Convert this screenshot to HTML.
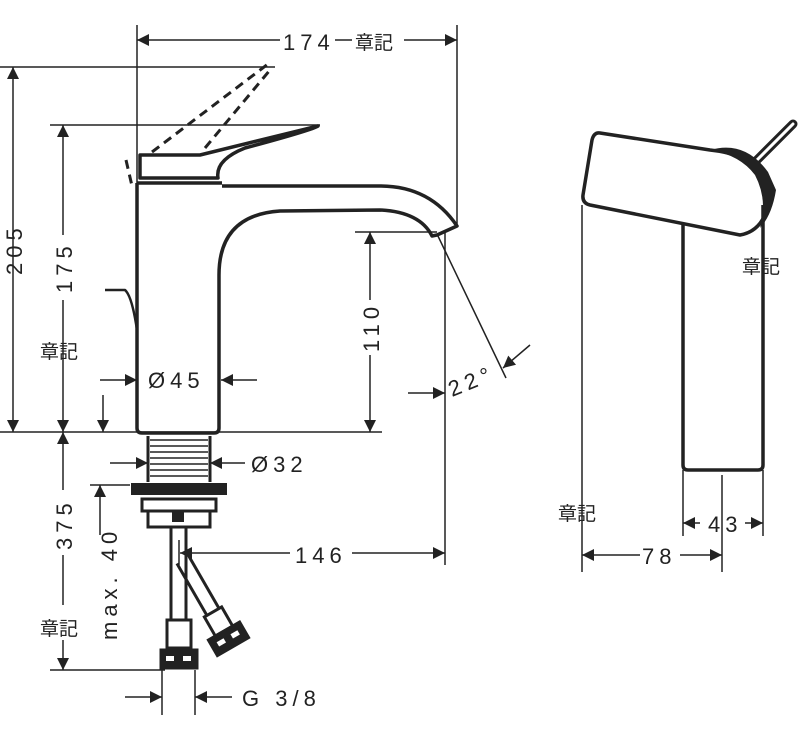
<!DOCTYPE html>
<html><head><meta charset="utf-8"><style>
html,body{margin:0;padding:0;background:#fff;}
svg{display:block;}
text{font-family:"Liberation Sans","Noto Sans CJK JP",sans-serif;fill:#222;}
.d{font-size:22px;letter-spacing:5px;}
.c{font-size:19px;}
</style></head><body>
<svg width="800" height="743" viewBox="0 0 800 743" xmlns="http://www.w3.org/2000/svg">
<defs>
<marker id="a" viewBox="0 0 10 10" refX="10" refY="5" markerWidth="16" markerHeight="12" markerUnits="userSpaceOnUse" orient="auto"><path d="M0,0L10,5L0,10z" fill="#222"/></marker>
</defs>
<g stroke="#222" stroke-width="1.5" fill="none">
<line x1="137" y1="25" x2="137" y2="183"/>
<line x1="457" y1="25" x2="457" y2="226"/>
<line x1="280" y1="40" x2="137" y2="40" marker-end="url(#a)"/>
<line x1="335" y1="40" x2="352" y2="40"/>
<line x1="404" y1="40" x2="457" y2="40" marker-end="url(#a)"/>
<line x1="0" y1="67" x2="275" y2="67"/>
<line x1="13" y1="280" x2="13" y2="67" marker-end="url(#a)"/>
<line x1="13" y1="280" x2="13" y2="432" marker-end="url(#a)"/>
<line x1="50" y1="125" x2="320" y2="125"/>
<line x1="63" y1="235" x2="63" y2="125" marker-end="url(#a)"/>
<line x1="63" y1="300" x2="63" y2="432" marker-end="url(#a)"/>
<line x1="0" y1="432" x2="382" y2="432"/>
<line x1="355" y1="232" x2="437" y2="232"/>
<line x1="370" y1="300" x2="370" y2="232" marker-end="url(#a)"/>
<line x1="370" y1="355" x2="370" y2="432" marker-end="url(#a)"/>
<line x1="100" y1="380" x2="137" y2="380" marker-end="url(#a)"/>
<line x1="257" y1="380" x2="221" y2="380" marker-end="url(#a)"/>
<line x1="103" y1="395" x2="103" y2="432" marker-end="url(#a)"/>
<line x1="437" y1="234" x2="506" y2="378"/>
<line x1="445" y1="232" x2="445" y2="565"/>
<line x1="530" y1="345" x2="503" y2="368" marker-end="url(#a)"/>
<line x1="408" y1="393" x2="445" y2="393" marker-end="url(#a)"/>
<line x1="63" y1="490" x2="63" y2="432" marker-end="url(#a)"/>
<line x1="63" y1="555" x2="63" y2="605"/>
<line x1="63" y1="640" x2="63" y2="670" marker-end="url(#a)"/>
<line x1="50" y1="670" x2="165" y2="670"/>
<line x1="90" y1="485" x2="130" y2="485"/>
<line x1="100" y1="535" x2="100" y2="485" marker-end="url(#a)"/>
<line x1="110" y1="463" x2="148" y2="463" marker-end="url(#a)"/>
<line x1="245" y1="463" x2="210" y2="463" marker-end="url(#a)"/>
<line x1="290" y1="553" x2="180" y2="553" marker-end="url(#a)"/>
<line x1="352" y1="553" x2="445" y2="553" marker-end="url(#a)"/>
<line x1="179" y1="540" x2="179" y2="565"/>
<line x1="162" y1="670" x2="162" y2="715"/>
<line x1="195" y1="670" x2="195" y2="715"/>
<line x1="125" y1="697" x2="162" y2="697" marker-end="url(#a)"/>
<line x1="232" y1="697" x2="195" y2="697" marker-end="url(#a)"/>
<line x1="582" y1="205" x2="582" y2="572"/>
<line x1="722" y1="475" x2="722" y2="572"/>
<line x1="683" y1="470" x2="683" y2="536"/>
<line x1="763" y1="470" x2="763" y2="536"/>
<line x1="640" y1="555" x2="582" y2="555" marker-end="url(#a)"/>
<line x1="680" y1="555" x2="722" y2="555" marker-end="url(#a)"/>
<line x1="700" y1="523" x2="683" y2="523" marker-end="url(#a)"/>
<line x1="745" y1="523" x2="763" y2="523" marker-end="url(#a)"/>
</g>
<g stroke="#222" stroke-width="3.5" fill="none" stroke-linejoin="round">
<path d="M137,183 L137,428 Q137,433 142,433 L214,433 Q219,433 219,428 L219,275 Q219,215 280,211 L380,210 Q420,212 432,236 L437,235 L457,226 Q430,186 380,186 L222,186"/>
<path d="M137,183 L222,183"/>
<path d="M140,155 L200,155 Q260,140 318,126 Q312,130 245,148 Q215,160 218,178 L140,178 Z"/>
<path d="M105,290 L125,290 Q132,296 137,330" stroke-width="2.5"/>
<path d="M148,436 L148,482 M210,436 L210,482" stroke-width="3"/>
</g>
<g stroke="#222" stroke-width="3" fill="none" stroke-dasharray="9,6">
<path d="M152,152 L268,64"/><path d="M205,148 L270,70"/>
<path d="M126,160 L132,186"/>
</g>
<g stroke="#222" stroke-width="1.5">
<line x1="150" y1="440" x2="208" y2="440"/><line x1="150" y1="446" x2="208" y2="446"/><line x1="150" y1="452" x2="208" y2="452"/>
<line x1="150" y1="458" x2="208" y2="458"/><line x1="150" y1="464" x2="208" y2="464"/>
<line x1="150" y1="470" x2="208" y2="470"/><line x1="150" y1="476" x2="208" y2="476"/>
</g>
<rect x="131" y="483" width="96" height="12" fill="#222"/>
<g stroke="#222" stroke-width="3" fill="none">
<rect x="142" y="499" width="74" height="12"/>
<rect x="148" y="511" width="62" height="16"/>
<line x1="171" y1="527" x2="171" y2="620"/><line x1="186" y1="527" x2="186" y2="620"/>
<rect x="167" y="620" width="24" height="28"/>
<rect x="161" y="650" width="36" height="18" fill="#222"/>
</g>
<rect x="166" y="656" width="8" height="5" fill="#fff"/><rect x="183" y="656" width="8" height="5" fill="#fff"/>
<g transform="translate(183,560) rotate(-30)" stroke="#222" stroke-width="3" fill="none">
<line x1="-7" y1="0" x2="-7" y2="60"/><line x1="7" y1="0" x2="7" y2="60"/>
<rect x="-10" y="60" width="20" height="22"/>
<rect x="-18" y="82" width="36" height="18" fill="#222"/>
<rect x="-12" y="88" width="8" height="5" fill="#fff" stroke="none"/><rect x="4" y="88" width="8" height="5" fill="#fff" stroke="none"/>
</g>
<rect x="172" y="510" width="12" height="12" fill="#222"/>
<g stroke="#222" stroke-width="3.5" fill="none" stroke-linejoin="round">
<path d="M683,225 L683,465 Q683,470 688,470 L758,470 Q763,470 763,465 L763,205"/>
<path d="M600,133 L710,150 Q760,155 770,190 Q768,230 740,235 L590,205 Q582,203 583,195 L592,140 Q594,132 600,133 Z"/>
<path d="M755,162 L793,124" stroke-width="9" stroke-linecap="round"/>
<path d="M755,162 L793,124" stroke="#fff" stroke-width="3" stroke-linecap="round"/>
</g>
<path d="M710,150 Q745,140 768,172 L776,190 Q772,215 760,228 Q768,200 755,175 Q740,155 710,150Z" fill="#222"/>
<text x="283" y="50" class="d">174</text>
<text x="355" y="49" class="c">章記</text>
<text transform="translate(22,275) rotate(-90)" class="d">205</text>
<text transform="translate(72,293) rotate(-90)" class="d">175</text>
<text x="40" y="358" class="c">章記</text>
<text transform="translate(379,352) rotate(-90)" class="d">110</text>
<text x="148" y="388" class="d">Ø45</text>
<text transform="translate(452,397) rotate(-22)" class="d">22°</text>
<text x="251" y="472" class="d">Ø32</text>
<text transform="translate(72,550) rotate(-90)" class="d">375</text>
<text transform="translate(117,640) rotate(-90)" class="d">max. 40</text>
<text x="40" y="635" class="c">章記</text>
<text x="295" y="563" class="d">146</text>
<text x="242" y="706" class="d">G 3/8</text>
<text x="742" y="273" class="c">章記</text>
<text x="558" y="520" class="c">章記</text>
<text x="708" y="532" class="d">43</text>
<text x="642" y="564" class="d">78</text>
</svg>
</body></html>
